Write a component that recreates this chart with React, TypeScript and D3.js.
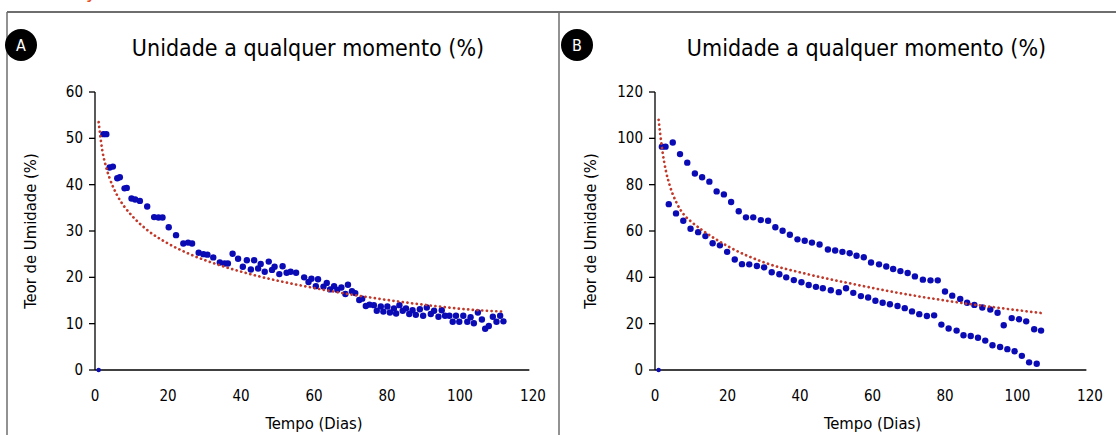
import React from "react";
import * as d3 from "d3";

// panel A - sample dried, readings per day
const daysA = [
  1, 2.3, 3.1, 4.0, 4.9, 6.1, 6.8, 8.1, 8.7, 10.0, 11.0, 12.3, 14.3, 16.2, 17.4, 18.5, 20.2, 22.2,
  24.2, 25.5, 26.6, 28.4, 29.7, 30.8, 32.4, 34.2, 35.5, 36.4, 37.7, 39.2, 40.5, 41.6, 42.7, 43.6,
  44.7, 45.4, 46.5, 47.6, 48.5, 49.2, 50.5, 51.4, 52.5, 53.6, 55.1, 57.3, 58.5, 59.3, 60.5, 61.1,
  62.6, 63.5, 64.4, 65.5, 66.4, 67.5, 68.6, 69.3, 70.4, 71.3, 72.4, 73.2, 74.2, 75.2, 76.4, 77.2,
  78.3, 79.0, 80.1, 80.8, 81.9, 82.5, 83.4, 84.3, 85.2, 86.1, 87.0, 87.9, 89.0, 89.9, 90.9, 92.0,
  92.9, 94.1, 95.0, 95.9, 97.1, 98.0, 98.9, 99.8, 100.9, 102.0, 102.9, 103.8, 104.9, 106.0, 106.9,
  107.9, 109.0, 110.0, 111.0, 111.9,
];
const moistureA = [
  0, 50.9, 50.9, 43.7, 43.9, 41.4, 41.6, 39.2, 39.3, 37.0, 36.8, 36.5, 35.3, 33.0, 32.9, 32.9, 30.8, 29.1,
  27.3, 27.5, 27.3, 25.3, 25.0, 24.9, 24.3, 23.2, 23.0, 23.0, 25.1, 24.0, 22.3, 23.7, 21.7, 23.7,
  21.9, 22.9, 21.2, 23.4, 21.6, 22.3, 20.7, 22.4, 21.0, 21.2, 21.0, 20.0, 19.0, 19.7, 18.1, 19.6,
  18.0, 18.8, 17.4, 18.1, 17.3, 17.8, 16.4, 18.4, 17.0, 16.6, 15.1, 15.4, 13.8, 14.1, 14.0, 12.8,
  13.7, 12.6, 13.7, 12.4, 13.3, 12.2, 14.0, 12.8, 13.3, 12.1, 12.9, 11.9, 13.1, 11.7, 13.5, 12.1,
  12.8, 11.5, 12.9, 11.7, 11.7, 10.4, 11.7, 10.4, 11.7, 10.4, 11.4, 10.1, 12.4, 10.9, 8.9,
  9.5, 11.5, 10.4, 11.7, 10.5,
];
// log trend line
const trendDaysA = [1, 2, 3, 4, 6, 8, 10, 14, 20, 26, 35, 45, 60, 75, 90, 105, 112];
const trendA = [53.5, 47.4, 43.9, 41.4, 37.8, 35.3, 33.4, 30.4, 27.3, 25.0, 22.4, 20.2, 17.7, 15.7, 14.1, 12.9, 12.6];

// panel B - two runs pooled in one series
const daysB = [
  1, 1.9, 2.9, 4.9, 6.9, 8.9, 11.0, 13.0, 15.0, 17.0, 19.0, 21.0, 23.1, 25.1, 27.1, 29.2, 31.2, 33.2,
  35.2, 37.2, 39.3, 41.3, 43.3, 45.4, 47.7, 49.7, 51.7, 53.7, 55.6, 57.6, 59.6, 61.8, 63.8, 65.7,
  67.7, 69.7, 71.7, 73.9, 76.0, 78.0, 80.0, 82.0, 84.2, 86.1, 88.1, 90.3, 92.5, 94.5, 96.2, 98.4,
  100.4, 102.4, 104.6, 106.5,
  3.8, 5.8, 7.8, 9.8, 11.9, 13.9, 15.9, 17.9, 19.9, 22.0, 24.0, 26.0, 28.1, 30.1, 32.2, 34.3, 36.2,
  38.3, 40.4, 42.4, 44.4, 46.3, 48.5, 50.7, 52.7, 54.7, 56.8, 58.8, 60.8, 62.8, 64.8, 66.9, 68.9,
  70.9, 72.9, 75.0, 77.0, 79.0, 81.0, 83.2, 85.1, 87.1, 89.1, 91.1, 93.1, 95.2, 97.2, 99.2, 101.2,
  103.2, 105.3,
];
const moistureB = [
  0, 96.4, 96.4, 98.2, 93.2, 89.5, 84.8, 83.2, 81.3, 77.1, 75.8, 72.5, 68.5, 65.9, 65.9, 64.7, 64.4, 61.6,
  60.1, 58.4, 56.4, 55.8, 55.0, 54.2, 52.0, 51.6, 51.0, 50.4, 49.3, 48.7, 46.4, 45.6, 44.7, 43.6,
  42.7, 41.9, 40.4, 39.0, 38.7, 38.7, 33.9, 32.1, 30.7, 29.0, 28.1, 27.0, 26.1, 24.7, 19.3, 22.4,
  21.9, 21.0, 17.6, 17.0,
  71.6, 67.6, 64.4, 61.0, 59.5, 57.8, 54.7, 53.8, 51.0, 47.7, 45.7, 45.6, 44.9, 44.3, 42.2, 41.3, 40.0,
  38.8, 37.9, 36.7, 35.9, 35.3, 34.4, 33.6, 35.3, 33.3, 31.9, 31.3, 29.9, 29.0, 28.4, 27.6, 26.7,
  25.3, 24.1, 23.3, 23.6, 19.6, 17.9, 17.0, 15.0, 14.7, 13.9, 12.7, 10.7, 9.9, 9.0, 8.1, 6.1,
  3.3, 2.7,
];
const trendDaysB = [1, 2, 3, 4, 6, 8, 10, 13, 20, 30, 42, 55, 70, 80, 95, 107];
const trendB = [108, 95, 86, 80, 72, 67, 64, 60.4, 53.5, 46.5, 41.4, 37, 32.5, 30, 26.8, 24.5];

const xTicks = [0, 20, 40, 60, 80, 100, 120];
const yTicksA = [0, 10, 20, 30, 40, 50, 60];
const yTicksB = [0, 20, 40, 60, 80, 100, 120];

const FONT = "'DejaVu Sans Condensed', 'Noto Sans', sans-serif";
const DOT = "#0b0bb5";
const TREND = "#c0392b";

type PanelProps = {
  letter: string;
  title: string;
  left: number;
  x0: number;
  x1: number;
  yMax: number;
  yTicks: number[];
  days: number[];
  values: number[];
  tDays: number[];
  tVals: number[];
};

function Panel(p: PanelProps) {
  const x = d3.scaleLinear().domain([0, 120]).range([p.x0, p.x1]);
  const y = d3.scaleLinear().domain([0, p.yMax]).range([370, 92]);
  const line = d3
    .line<number>()
    .x((d, i) => x(p.tDays[i]))
    .y((d) => y(d))
    .curve(d3.curveMonotoneX);

  return (
    <g>
      <circle cx={p.left + 14} cy={45} r={16} fill="#000" />
      <text x={p.left + 14} y={51} fill="#fff" fontSize={16} textAnchor="middle" fontFamily={FONT}>
        {p.letter}
      </text>
      <text x={(p.x0 + p.x1) / 2 - 6} y={56} fontSize={23} textAnchor="middle" fontFamily={FONT}>
        {p.title}
      </text>

      {/* y axis */}
      <line x1={p.x0} x2={p.x0} y1={y(p.yMax)} y2={y(0)} stroke="#000" strokeWidth={1.3} />
      {p.yTicks.map((t) => (
        <g key={t}>
          <line x1={p.x0 - 6} x2={p.x0} y1={y(t)} y2={y(t)} stroke="#000" strokeWidth={1.3} />
          <text x={p.x0 - 12} y={y(t) + 5} fontSize={15} textAnchor="end" fontFamily={FONT}>
            {t}
          </text>
        </g>
      ))}
      {/* x axis, no tick marks */}
      <line x1={p.x0} x2={x(119)} y1={y(0)} y2={y(0)} stroke="#000" strokeWidth={1.3} />
      {xTicks.map((t) => (
        <text key={t} x={x(t)} y={401} fontSize={15} textAnchor="middle" fontFamily={FONT}>
          {t}
        </text>
      ))}
      <text x={(p.x0 + p.x1) / 2} y={429} fontSize={16.5} textAnchor="middle" fontFamily={FONT}>
        Tempo (Dias)
      </text>
      <text
        transform={`translate(${p.x0 - 59},${231}) rotate(-90)`}
        fontSize={16.5}
        textAnchor="middle"
        fontFamily={FONT}
      >
        Teor de Umidade (%)
      </text>

      {p.days.map((d, i) => (
        <circle key={i} cx={x(d)} cy={y(p.values[i])} r={i === 0 ? 2.2 : 3.2} fill={DOT} />
      ))}
      <path
        d={line(p.tVals) || ""}
        fill="none"
        stroke={TREND}
        strokeWidth={2.7}
        strokeDasharray="0.1 4.6"
        strokeLinecap="round"
      />
    </g>
  );
}

export default function App() {
  return (
    <svg
      width={1116}
      height={435}
      style={{ position: "absolute", left: 0, top: 0, background: "#fff" }}
    >
      <rect width={1116} height={435} fill="#fff" />
      <text x={86} y={-2} fontSize={20} fill="#e8501e" fontFamily={FONT}>
        y
      </text>
      <line x1={7} x2={1116} y1={12} y2={12} stroke="#6e6e6e" strokeWidth={2} />
      <line x1={7} x2={7} y1={12} y2={435} stroke="#6e6e6e" strokeWidth={1.5} />
      <line x1={559} x2={559} y1={12} y2={435} stroke="#6e6e6e" strokeWidth={1.5} />
      <Panel
        letter="A"
        title="Unidade a qualquer momento (%)"
        left={7}
        x0={95}
        x1={533}
        yMax={60}
        yTicks={yTicksA}
        days={daysA}
        values={moistureA}
        tDays={trendDaysA}
        tVals={trendA}
      />
      <Panel
        letter="B"
        title="Umidade a qualquer momento (%)"
        left={563}
        x0={655}
        x1={1090}
        yMax={120}
        yTicks={yTicksB}
        days={daysB}
        values={moistureB}
        tDays={trendDaysB}
        tVals={trendB}
      />
    </svg>
  );
}
